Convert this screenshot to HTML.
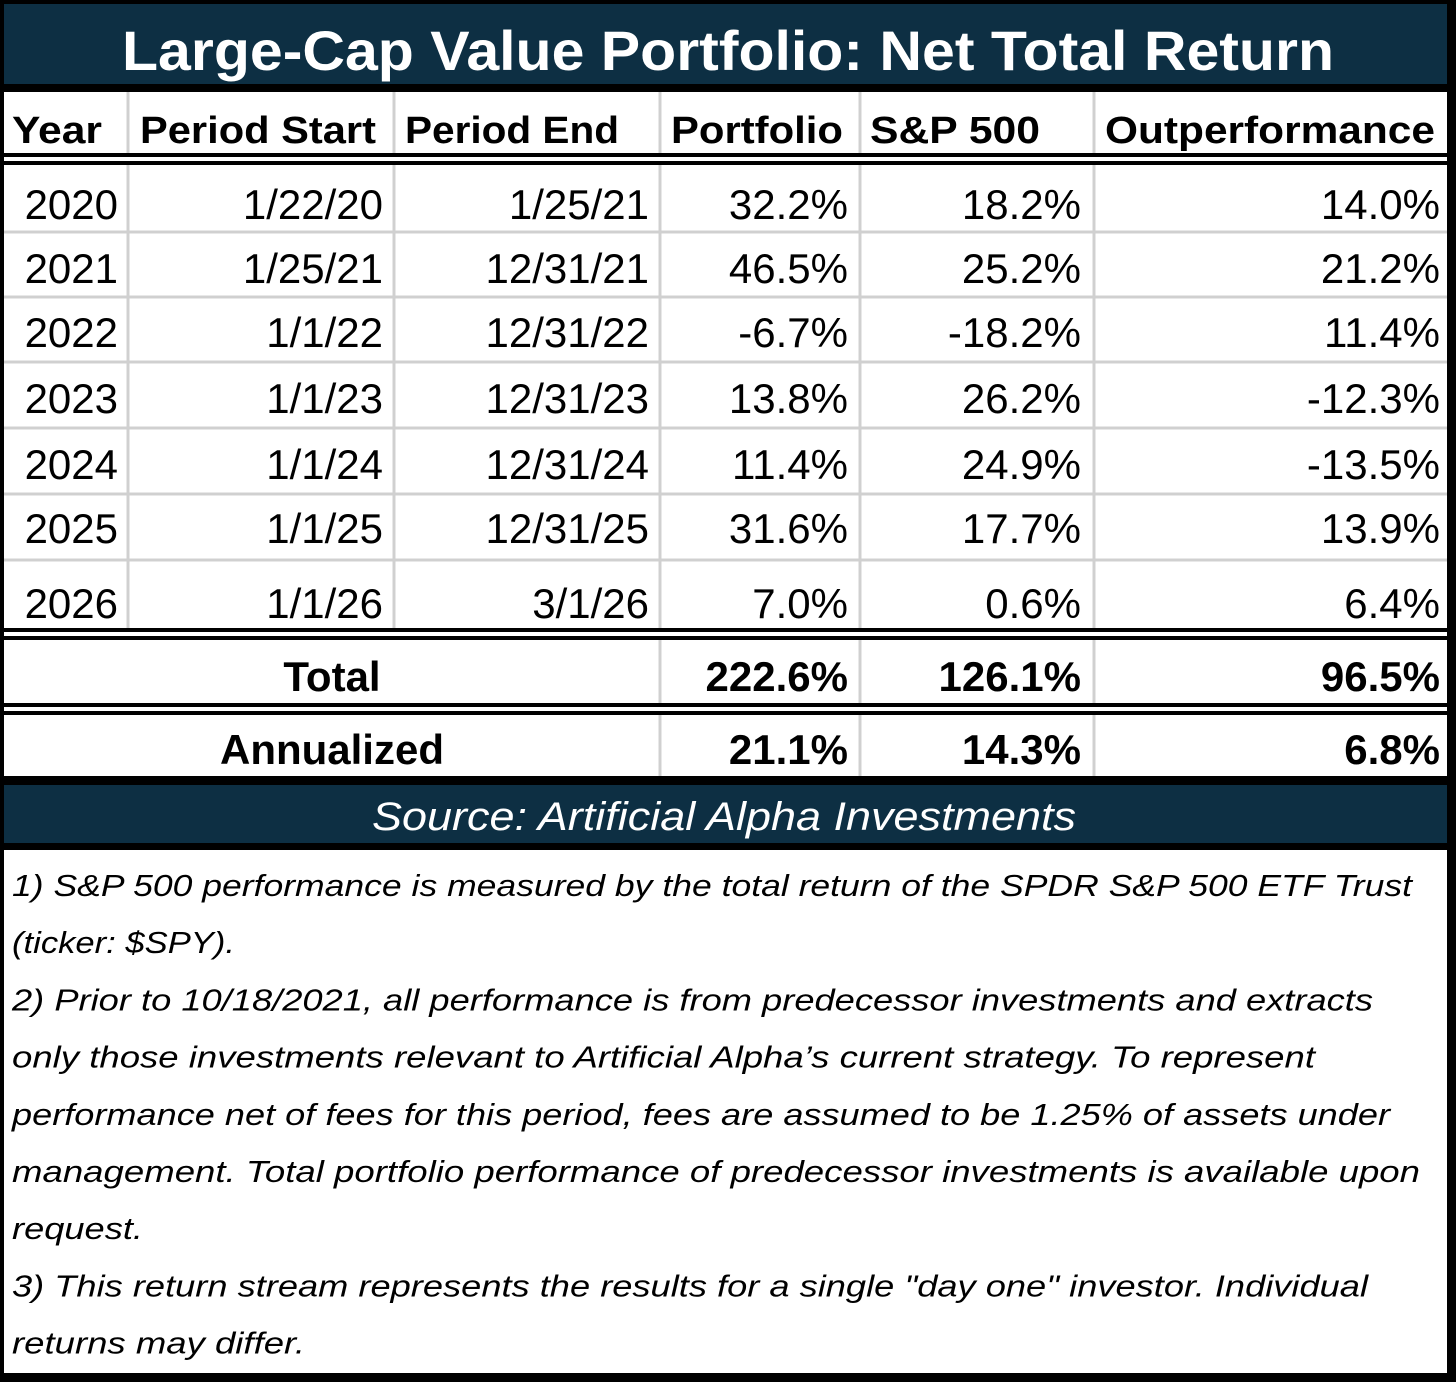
<!DOCTYPE html>
<html><head><meta charset="utf-8"><style>
html,body{margin:0;padding:0;background:#000;}
svg{display:block;}
text{font-family:"Liberation Sans",sans-serif;}
</style></head><body>
<svg id="s" width="1456" height="1382" viewBox="0 0 1456 1382" xmlns="http://www.w3.org/2000/svg">
<rect x="0" y="0" width="1456" height="1382" fill="#000"/>
<rect x="4" y="4" width="1443" height="80" fill="#0d2f43"/>
<text x="728" y="70" text-anchor="middle" fill="#fff" font-weight="bold" font-size="56" textLength="1212" lengthAdjust="spacingAndGlyphs">Large-Cap Value Portfolio: Net Total Return</text>
<rect x="4" y="92" width="1443" height="684" fill="#fff"/>
<rect x="4" y="785" width="1443" height="58" fill="#0d2f43"/>
<text x="724" y="830" text-anchor="middle" fill="#fff" font-style="italic" font-size="40" textLength="704" lengthAdjust="spacingAndGlyphs">Source: Artificial Alpha Investments</text>
<rect x="4" y="850" width="1443" height="523" fill="#fff"/>
<g id="grid"></g>
<g id="cells"></g>
<g id="notes"></g>
</svg>
<script>
const years = ["2020","2021","2022","2023","2024","2025","2026"];
const periodStart = ["1/22/20","1/25/21","1/1/22","1/1/23","1/1/24","1/1/25","1/1/26"];
const periodEnd = ["1/25/21","12/31/21","12/31/22","12/31/23","12/31/24","12/31/25","3/1/26"];
const portfolio = ["32.2%","46.5%","-6.7%","13.8%","11.4%","31.6%","7.0%"];
const sp500 = ["18.2%","25.2%","-18.2%","26.2%","24.9%","17.7%","0.6%"];
const outperf = ["14.0%","21.2%","11.4%","-12.3%","-13.5%","13.9%","6.4%"];
const totals = ["222.6%","126.1%","96.5%"];
const annualized = ["21.1%","14.3%","6.8%"];
const headers = ["Year","Period Start","Period End","Portfolio","S&P 500","Outperformance"];
const notes = [
 "1) S&P 500 performance is measured by the total return of the SPDR S&P 500 ETF Trust",
 "(ticker: $SPY).",
 "2) Prior to 10/18/2021, all performance is from predecessor investments and extracts",
 "only those investments relevant to Artificial Alpha\u2019s current strategy. To represent",
 "performance net of fees for this period, fees are assumed to be 1.25% of assets under",
 "management. Total portfolio performance of predecessor investments is available upon",
 "request.",
 "3) This return stream represents the results for a single \"day one\" investor. Individual",
 "returns may differ."
];
const NS="http://www.w3.org/2000/svg";
const grid=document.getElementById('grid'), cells=document.getElementById('cells'), notesG=document.getElementById('notes');
function mk(tag,parent){const e=document.createElementNS(NS,tag);parent.appendChild(e);return e;}
const colX=[4,128,394,660,860,1094,1447];
const headLeft=[12,140,405,671,870,1105];
const headW=[90,236,214,172,170,330];
const rowBots=[232,297,362,428,494,560,628];
const rowBase=[219,283,347,413,479,543,618];
for(let i=1;i<6;i++){
  const l=mk('rect',grid);
  l.setAttribute('x',colX[i]-1.5);l.setAttribute('y',92);l.setAttribute('width',3);
  l.setAttribute('height',(i>=3?776:628)-92);l.setAttribute('fill','#d0d0d0');
  
  
}
for(let r=0;r<6;r++){
  const l=mk('rect',grid);
  l.setAttribute('x',4);l.setAttribute('y',rowBots[r]-1.5);l.setAttribute('width',1443);l.setAttribute('height',3);l.setAttribute('fill','#d0d0d0');
  
  
}
[153,628,703].forEach(y=>{
  const a=mk('rect',grid);a.setAttribute('x',4);a.setAttribute('y',y);a.setAttribute('width',1443);a.setAttribute('height',4);a.setAttribute('fill','#000');
  
  
  const w=mk('rect',grid);w.setAttribute('x',4);w.setAttribute('y',y+4);w.setAttribute('width',1443);w.setAttribute('height',4);w.setAttribute('fill','#fff');
  const b=mk('rect',grid);b.setAttribute('x',4);b.setAttribute('y',y+8);b.setAttribute('width',1443);b.setAttribute('height',4);b.setAttribute('fill','#000');
  
  
});
function txt(s,x,y,anchor,size,bold,name,tl){
  const t=mk('text',cells);t.textContent=s;t.setAttribute('x',x);t.setAttribute('y',y);
  t.setAttribute('text-anchor',anchor);t.setAttribute('font-size',size);t.setAttribute('fill','#000');
  if(bold)t.setAttribute('font-weight','bold');
  if(tl){t.setAttribute('textLength',tl);t.setAttribute('lengthAdjust','spacingAndGlyphs');}
  
  
  return t;
}
headers.forEach((h,i)=>txt(h,headLeft[i],143,'start',38,true,'header-'+h.toLowerCase().replace(/[^a-z0-9]+/g,'-'),headW[i]));
const rightX=[118,383,649,848,1081,1440];
const cols=[years,periodStart,periodEnd,portfolio,sp500,outperf];
for(let r=0;r<years.length;r++){
  for(let c=0;c<6;c++){
    txt(cols[c][r],rightX[c],rowBase[r],'end',42,false,'cell-'+years[r]+'-col'+c);
  }
}
txt('Total',332,691,'middle',42,true,'total-label');
txt('Annualized',332,764,'middle',42,true,'annualized-label');
for(let c=0;c<3;c++){
  txt(totals[c],rightX[c+3],691,'end',42,true,'total-value');
  txt(annualized[c],rightX[c+3],764,'end',42,true,'annualized-value');
}
const noteW=[1400,223,1361,1303,1378,1408,131,1356,293];
notes.forEach((n,i)=>{
  const t=mk('text',notesG);t.textContent=n;t.setAttribute('x',12);t.setAttribute('y',896+i*57.2);
  t.setAttribute('font-size',31);t.setAttribute('font-style','italic');t.setAttribute('fill','#000');
  t.setAttribute('textLength',noteW[i]);t.setAttribute('lengthAdjust','spacingAndGlyphs');
  
  
});
</script>
</body></html>
